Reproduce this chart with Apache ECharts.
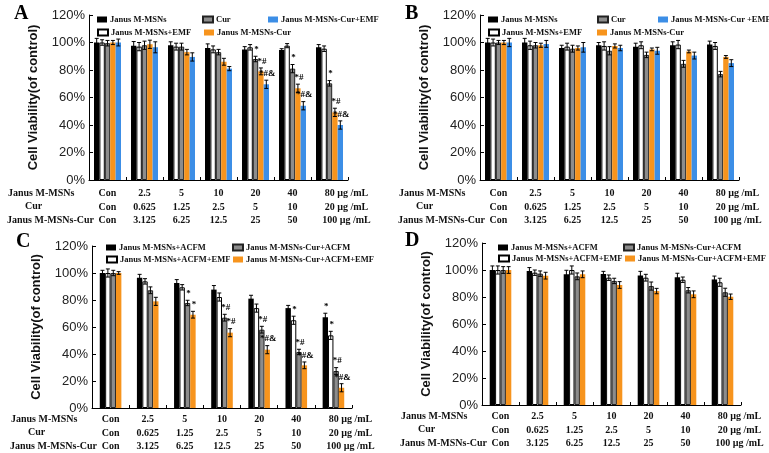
<!DOCTYPE html>
<html><head><meta charset="utf-8">
<script src="https://cdn.jsdelivr.net/npm/echarts@6/dist/echarts.min.js"></script>
<style>html,body{margin:0;padding:0;background:#fff}#c{width:769px;height:453px}</style>
</head><body><div id="c"></div>
<script>
// ---- tick labels ----
const rowJanus = ['Con','2.5','5','10','20','40','80 µg /mL'];
const rowCur   = ['Con','0.625','1.25','2.5','5','10','20 µg /mL'];
const rowJCur  = ['Con','3.125','6.25','12.5','25','50','100 µg /mL'];
const rowHeaders = ['Janus M-MSNs','Cur','Janus M-MSNs-Cur'];
const panelLetters = ['A','B','C','D'];
const yName = 'Cell Viability(of control)';

// ---- series names ----
const namesA = ['Janus M-MSNs','Janus M-MSNs+EMF','Cur','Janus M-MSNs-Cur','Janus M-MSNs-Cur+EMF'];
const namesB = ['Janus M-MSNs','Janus M-MSNs+EMF','Cur','Janus M-MSNs-Cur','Janus M-MSNs-Cur +EMF'];
const namesC = ['Janus M-MSNs+ACFM','Janus M-MSNs+ACFM+EMF','Janus M-MSNs-Cur+ACFM','Janus M-MSNs-Cur+ACFM+EMF'];

// ---- Panel A values ----
const aBlack  = [100, 97.7, 98, 96, 95, 94.5, 96.5];
const aWhite  = [100, 97, 97, 95, 96.5, 97.7, 95.5];
const aGrey   = [99.5, 98, 97, 93, 88, 81, 70.3];
const aOrange = [100, 98.7, 93, 86, 79, 66.7, 49.2];
const aBlue   = [100, 96.5, 89.5, 81, 69.6, 54, 40];
const aBlackE  = [3, 3, 2.5, 3, 2, 1, 2];
const aWhiteE  = [2, 3, 2.5, 2.5, 2, 1.5, 2];
const aGreyE   = [2, 3, 2.5, 2, 2, 3, 2];
const aOrangeE = [1.5, 3, 2, 2.5, 2.5, 3, 3];
const aBlueE   = [2.5, 4, 3, 1.5, 3, 3, 3];
const aGreyN   = ['','','','','*','*','*'];
const aOrangeN = ['','','','','*#','*#','*#'];
const aBlueN   = ['','','','','*#&','*#&','*#&'];

// ---- Panel B values ----
const bBlack  = [100, 100, 96, 98, 97, 98, 98.5];
const bWhite  = [100, 98, 97, 97.5, 98, 98.5, 97.5];
const bGrey   = [100, 98, 95.5, 94, 91, 84.5, 77];
const bOrange = [100, 98, 96, 97.5, 95, 93.5, 89.5];
const bBlue   = [100, 99, 96.5, 96, 94, 90.5, 85];
const bBlackE  = [3, 3, 2, 2, 2.5, 2.5, 2.5];
const bWhiteE  = [2.5, 3, 2.5, 3, 2.5, 3, 2.5];
const bGreyE   = [1.5, 2, 2.5, 3, 2, 2.5, 2];
const bOrangeE = [1.5, 1.5, 1.5, 1.5, 1, 1, 1];
const bBlueE   = [3, 2.5, 3.5, 2, 2.5, 2.5, 2.5];

// ---- Panel C values ----
const cBlack  = [100, 96.5, 92.6, 87.7, 81, 74, 67.2];
const cWhite  = [100, 93.8, 89.4, 82.2, 74, 65, 53.8];
const cGrey   = [100, 87.2, 77.8, 66.9, 58, 41.5, 27.4];
const cOrange = [100, 79, 69.1, 55.8, 43.2, 31.6, 15];
const cBlackE  = [2, 2.5, 2.5, 3, 2.5, 2, 3];
const cWhiteE  = [3, 2, 2, 3, 3, 3, 3];
const cGreyE   = [2, 2.5, 2, 2.5, 2.5, 2, 2.5];
const cOrangeE = [1, 3, 2.5, 3, 3, 2.5, 3];
const cBlackN  = ['','','','','','','*'];
const cWhiteN  = ['','','','','','*','*'];
const cGreyN   = ['','','*','*#','*#','*#','*#'];
const cOrangeN = ['','','*','*#','*#&','*#&','*#&'];

// ---- Panel D values ----
const dBlack  = [100, 99.3, 96.8, 97, 96, 94.6, 93];
const dWhite  = [100, 98, 100, 94.3, 94.3, 92.8, 90.9];
const dGrey   = [100, 97.3, 95.3, 91.9, 88.1, 85, 83.5];
const dOrange = [100, 95.8, 96.8, 88.9, 84.4, 82, 80.2];
const dBlackE  = [3, 2.5, 3, 2, 3, 3, 2.5];
const dWhiteE  = [3, 2, 3, 2, 2.5, 2, 3];
const dGreyE   = [2.5, 2, 2.5, 2, 3, 2, 3];
const dOrangeE = [2.5, 2.5, 2.5, 2.5, 2, 2.5, 2];

// ---- styles ----
const SERIF = '"Liberation Serif","Times New Roman",serif';
const SANS = '"Liberation Sans",Arial,sans-serif';
const BLACK = {color:'#000', borderColor:'#000', borderWidth:0};
const WHITE = {color:'#fff', borderColor:'#000', borderWidth:1};
const GREY = {color:'#8c8c8c', borderColor:'#222', borderWidth:1};
const ORANGE = {color:'#f7941d', borderColor:'#f7941d', borderWidth:0};
const BLUE = {color:'#3c8ee6', borderColor:'#3c8ee6', borderWidth:0};
const BARW = 5.4;

const grids = [
  {left:89, top:15, width:259, height:165},
  {left:480, top:15, width:259, height:165},
  {left:92, top:246, width:260, height:162},
  {left:482, top:243, width:259, height:162}
];
const labelMargins = [7, 7, 5, 5];
const categories = rowJanus.map((v,i)=> v + '\n' + rowCur[i] + '\n' + rowJCur[i]);

const option = {
  animation:false,
  backgroundColor:'#fff',
  grid: grids.map(g=>Object.assign({containLabel:false}, g)),
  xAxis: grids.map((g,gi)=>({
    type:'category', gridIndex:gi, data:categories,
    axisLine:{lineStyle:{color:'#000', width:1}},
    axisTick:{show:true, inside:true, length:3, lineStyle:{color:'#000'}},
    axisLabel:{interval:0, margin:labelMargins[gi], fontFamily:SERIF, fontWeight:'bold', fontSize:10, lineHeight:13.3, color:'#111',
      formatter:(v,idx)=> idx===rowJanus.length-1 ? v.split('\n').map(s=>'{s|'+s+'}').join('\n') : v,
      rich:{s:{padding:[0,0,0,34], fontFamily:SERIF, fontWeight:'bold', fontSize:10, lineHeight:13.3, color:'#111'}}
    },
    splitLine:{show:false}
  })),
  yAxis: grids.map((g,gi)=>({
    type:'value', gridIndex:gi, min:0, max:120, interval:20,
    name:yName, nameLocation:'middle', nameGap:49,
    nameTextStyle:{fontFamily:SANS, fontWeight:'bold', fontSize:13, color:'#111'},
    axisLine:{show:true, lineStyle:{color:'#000', width:1}},
    axisTick:{show:true, inside:true, length:4, lineStyle:{color:'#000'}},
    axisLabel:{formatter:'{value}%', margin:4, fontFamily:SANS, fontSize:13, color:'#222'},
    splitLine:{show:false}
  })),
  legend: [],
  graphic: [],
  series: []
};

function addPanel(gi, names, vals, errs, notes, styles){
  const n = names.length;
  names.forEach((nm,si)=>{
    option.series.push({type:'bar', name:nm, xAxisIndex:gi, yAxisIndex:gi, data:vals[si],
      barWidth:BARW, barGap:'0%', itemStyle:styles[si]});
  });
  names.forEach((nm,si)=>{
    const nts = notes[si] || [];
    option.series.push({type:'custom', xAxisIndex:gi, yAxisIndex:gi, z:5, silent:true,
      data: vals[si].map((v,i)=>[i, v, errs[si][i]]),
      renderItem:(params, api)=>{
        const c = api.coord([api.value(0), api.value(1)]);
        const xc = c[0] + (si-(n-1)/2)*BARW;
        const t = api.coord([api.value(0), api.value(1)+api.value(2)])[1];
        const b = api.coord([api.value(0), api.value(1)-api.value(2)])[1];
        const cap = 2;
        const st = {stroke:'#000', lineWidth:1};
        const ch = [
          {type:'line', shape:{x1:xc, y1:t, x2:xc, y2:b}, style:st},
          {type:'line', shape:{x1:xc-cap, y1:t, x2:xc+cap, y2:t}, style:st},
          {type:'line', shape:{x1:xc-cap, y1:b, x2:xc+cap, y2:b}, style:st}
        ];
        const note = nts[params.dataIndex];
        if (note) ch.push({type:'text', x:xc+1, y:t-2, style:{text:note, fill:'#000', font:'bold 9px '+SERIF, textAlign:'center', textVerticalAlign:'bottom'}});
        return {type:'group', children:ch};
      }});
  });
}

addPanel(0, namesA, [aBlack,aWhite,aGrey,aOrange,aBlue], [aBlackE,aWhiteE,aGreyE,aOrangeE,aBlueE], [[],[],aGreyN,aOrangeN,aBlueN], [BLACK,WHITE,GREY,ORANGE,BLUE]);
addPanel(1, namesB, [bBlack,bWhite,bGrey,bOrange,bBlue], [bBlackE,bWhiteE,bGreyE,bOrangeE,bBlueE], [], [BLACK,WHITE,GREY,ORANGE,BLUE]);
addPanel(2, namesC, [cBlack,cWhite,cGrey,cOrange], [cBlackE,cWhiteE,cGreyE,cOrangeE], [cBlackN,cWhiteN,cGreyN,cOrangeN], [BLACK,WHITE,GREY,ORANGE]);
addPanel(3, namesC, [dBlack,dWhite,dGrey,dOrange], [dBlackE,dWhiteE,dGreyE,dOrangeE], [], [BLACK,WHITE,GREY,ORANGE]);

// legends: [name, left, centerY]
const legendPos = [
  ['Janus M-MSNs',97,20],['Cur',202,20],['Janus M-MSNs-Cur+EMF',268,20],
  ['Janus M-MSNs+EMF',97,33],['Janus M-MSNs-Cur',204,33],
  ['Janus M-MSNs',488,20],['Cur',597,20],['Janus M-MSNs-Cur +EMF',658,20],
  ['Janus M-MSNs+EMF',488,33],['Janus M-MSNs-Cur',597,33],
  ['Janus M-MSNs+ACFM',106,248],['Janus M-MSNs-Cur+ACFM',232,248],
  ['Janus M-MSNs+ACFM+EMF',106,260],['Janus M-MSNs-Cur+ACFM+EMF',233,260],
  ['Janus M-MSNs+ACFM',498,248],['Janus M-MSNs-Cur+ACFM',623,248],
  ['Janus M-MSNs+ACFM+EMF',498,259],['Janus M-MSNs-Cur+ACFM+EMF',625,259]
];
legendPos.forEach(([nm,l,cy])=>{
  option.legend.push({data:[nm], left:l, top:cy-5, padding:0, itemWidth:10, itemHeight:6, itemGap:0,
    icon:'rect', selectedMode:false, textStyle:{fontFamily:SERIF, fontWeight:'bold', fontSize:8.5, color:'#111', padding:[0,0,0,-2]}});
});

// panel letters & row headers
const letterPos = [[14,4],[405,4],[16,232],[405,231]];
letterPos.forEach(([x,y],i)=>option.graphic.push({type:'text', left:x, top:y, style:{text:panelLetters[i], font:'bold 20px '+SERIF, fill:'#000'}}));
const rowXs = [8, 25, 7];
grids.forEach((g,gi)=>{
  const y0 = g.top + g.height + labelMargins[gi] + 6.6;
  const xoff = g.left - 89;
  rowHeaders.forEach((h,ri)=>{
    option.graphic.push({type:'text', x:rowXs[ri] + xoff, y:y0 + ri*13.3,
      style:{text:h, font:'bold 10px '+SERIF, fill:'#111', textVerticalAlign:'middle'}});
  });
});

const chart = echarts.init(document.getElementById('c'), null, {renderer:'canvas'});
chart.setOption(option);
</script></body></html>
